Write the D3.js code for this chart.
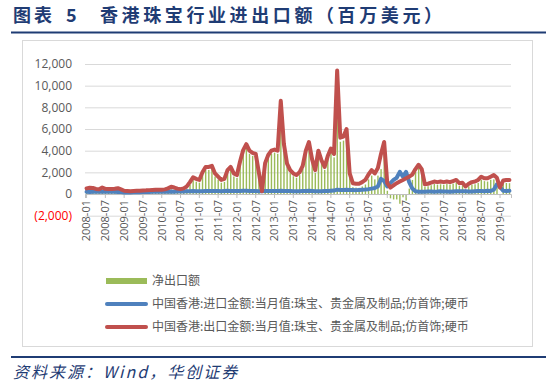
<!DOCTYPE html>
<html>
<head>
<meta charset="utf-8">
<script src="https://cdn.jsdelivr.net/npm/d3@7"></script>
<style>
body { margin: 0; background: #fff; }
svg text { font-family: "Noto Sans CJK SC", "Noto Sans", sans-serif; }
</style>
</head>
<body>
<script>
// months 2008-01 .. 2019-04
var years = d3.range(2008, 2020);
var months = [];
years.forEach(function(y) {
    for (var m = 1; m <= 12; m++) months.push(y + "-" + (m < 10 ? "0" + m : m));
});
months = months.slice(0, 136);

// 出口金额 (red)
var exportVals = [
    520, 580, 560, 470, 450, 600, 480, 470, 470, 490, 540, 430,
    300, 280, 260, 280, 300, 310, 330, 340, 360, 380, 400, 400,
    400, 430, 520, 670, 600, 500, 450, 520, 700, 1100, 1550, 1400,
    1300, 2000, 2500, 2500, 2600, 1900, 1600, 1300, 1400, 2200, 2500, 1900,
    1750, 3000, 4050, 4600, 4000, 3800, 3700, 2000, 250, 2850, 3600, 4000,
    4100, 4000, 8600, 4600, 2800, 2200, 1900, 1750, 2000, 2600, 4000, 4800,
    3200, 2200, 4000, 3100, 2500, 3500, 4200, 3700, 11400, 5200, 5300, 6000,
    1900, 1000, 950, 950, 1100, 1300, 1800, 2200, 1900, 2400, 3700, 4800,
    1000, 600, 800, 1000, 1150, 1300, 1450, 1600, 1800, 2300, 2700, 2300,
    900, 950, 1050, 1150, 1100, 1150, 1100, 1150, 1100, 1200, 1300, 1000,
    1050, 700, 950, 1100, 1150, 1300, 1600, 1450, 1450, 1600, 1750, 1500,
    600, 1250, 1300, 1300
];

// 进口金额 (blue)
var importVals = [
    200, 180, 220, 200, 210, 230, 220, 200, 210, 200, 190, 180,
    150, 140, 150, 160, 170, 170, 180, 180, 190, 200, 200, 210,
    200, 210, 220, 230, 220, 230, 240, 230, 250, 260, 270, 260,
    250, 260, 280, 280, 290, 280, 270, 260, 280, 300, 290, 280,
    270, 280, 300, 300, 290, 280, 270, 260, 250, 270, 280, 290,
    280, 290, 300, 290, 280, 270, 260, 250, 260, 270, 280, 300,
    280, 260, 250, 260, 270, 280, 300, 320, 400, 380, 370, 400,
    380, 370, 360, 380, 400, 420, 450, 500, 550, 700, 1400, 1200,
    700, 1000, 1300, 1500, 2050, 1600, 2050, 1100, 500, 250, 220, 200,
    220, 230, 240, 220, 230, 250, 240, 230, 220, 240, 260, 250,
    260, 250, 240, 230, 250, 270, 280, 260, 300, 280, 400, 900,
    650, 300, 280, 300
];

// 净出口额 (green bars)
var netVals = [
    320, 400, 340, 270, 240, 370, 260, 270, 260, 290, 350, 250,
    150, 140, 110, 120, 130, 140, 150, 160, 170, 180, 200, 190,
    200, 220, 300, 440, 380, 270, 210, 290, 450, 840, 1280, 1140,
    1050, 1740, 2220, 2220, 2310, 1620, 1330, 1040, 1120, 1900, 2210, 1620,
    1480, 2720, 3750, 4300, 3710, 3520, 3430, 1740, 0, 2580, 3320, 3710,
    3820, 3710, 8300, 4310, 2520, 1930, 1640, 1500, 1740, 2330, 3720, 4500,
    2920, 1940, 3750, 2840, 2230, 3220, 3900, 3380, 11000, 4820, 4930, 5600,
    1520, 630, 590, 570, 700, 880, 1350, 1700, 1350, 1700, 2300, 3600,
    300, -400, -500, -500, -900, -300, -600, 500, 1300, 2050, 2480, 2100,
    680, 720, 810, 930, 870, 900, 860, 920, 880, 960, 1040, 750,
    790, 450, 710, 870, 900, 1030, 1320, 1190, 1150, 1320, 1350, 600,
    -50, 950, 1020, 1000
];

var yTicks = [-2000, 0, 2000, 4000, 6000, 8000, 10000, 12000];
var legendLabels = [
    "净出口额",
    "中国香港:进口金额:当月值:珠宝、贵金属及制品;仿首饰;硬币",
    "中国香港:出口金额:当月值:珠宝、贵金属及制品;仿首饰;硬币"
];

var W = 554, H = 389;
var navy = "#1f3c74", grey = "#595959";
var cGreen = "#9bbb59", cBlue = "#4f81bd", cRed = "#c0504d";

var svg = d3.select("body").append("svg")
    .attr("width", W)
    .attr("height", H);

// title + rules
svg.append("text").attr("x", 13).attr("y", 22)
    .attr("font-size", 18).attr("font-weight", "bold").attr("fill", navy)
    .attr("letter-spacing", 3).text("图表");
svg.append("text").attr("x", 66).attr("y", 22)
    .attr("font-size", 18).attr("font-weight", "bold").attr("fill", navy)
    .text("5");
svg.append("text").attr("x", 100).attr("y", 22)
    .attr("font-size", 18).attr("font-weight", "bold").attr("fill", navy)
    .attr("letter-spacing", 3.6).text("香港珠宝行业进出口额（百万美元）");
svg.append("line").attr("x1", 11).attr("x2", 546).attr("y1", 32.5).attr("y2", 32.5)
    .attr("stroke", navy).attr("stroke-width", 2);

// chart frame
svg.append("rect").attr("x", 22.5).attr("y", 40.5).attr("width", 510).attr("height", 306)
    .attr("fill", "none").attr("stroke", "#d9d9d9");

// footer
svg.append("line").attr("x1", 11).attr("x2", 546).attr("y1", 357).attr("y2", 357)
    .attr("stroke", navy).attr("stroke-width", 2);
svg.append("text").attr("x", 13).attr("y", 378)
    .attr("font-size", 16).attr("font-style", "italic").attr("fill", navy)
    .attr("letter-spacing", 2).text("资料来源：Wind，华创证券");

// scales
var x = d3.scaleBand().domain(months).range([85, 511]);
var y = d3.scaleLinear().domain([-2000, 12000]).range([215.7, 64]);

var fmt = d3.format(",");
var yAxis = svg.append("g")
    .attr("transform", "translate(85,0)")
    .call(d3.axisLeft(y).tickValues(yTicks).tickSize(-(511 - 85)).tickPadding(13)
        .tickFormat(function(d) { return d < 0 ? "(" + fmt(-d) + ")" : fmt(d); }));
yAxis.select(".domain").remove();
yAxis.selectAll("line").attr("stroke", "#d9d9d9");
yAxis.selectAll("text")
    .attr("font-size", 12)
    .attr("fill", function(d) { return d < 0 ? "#ff0000" : grey; })
    .style("font-family", "'Open Sans', 'Noto Sans', sans-serif");

// bars
svg.append("g").selectAll("rect")
    .data(netVals)
    .enter().append("rect")
    .attr("x", function(d, i) { return x(months[i]) + x.bandwidth() * 0.3; })
    .attr("width", x.bandwidth() * 0.45)
    .attr("y", function(d) { return y(Math.max(0, d)); })
    .attr("height", function(d) { return Math.abs(y(d) - y(0)); })
    .attr("fill", cGreen);

// x axis at 0
var xAxis = svg.append("g")
    .attr("transform", "translate(0," + y(0) + ")")
    .call(d3.axisBottom(x)
        .tickValues(months.filter(function(d, i) { return i % 6 === 0; }))
        .tickSize(4).tickPadding(5));
xAxis.select(".domain").attr("stroke", "#bfbfbf");
xAxis.selectAll("line").attr("stroke", "#bfbfbf");
xAxis.selectAll("text")
    .attr("font-size", 11)
    .attr("fill", grey)
    .style("font-family", "'Open Sans', 'Noto Sans', sans-serif")
    .attr("transform", "rotate(-90)")
    .attr("text-anchor", "end")
    .attr("x", -6)
    .attr("y", 0)
    .attr("dy", "0.35em");

// lines
var line = d3.line()
    .x(function(d, i) { return x(months[i]) + x.bandwidth() / 2; })
    .y(function(d) { return y(d); });

svg.append("path").datum(importVals)
    .attr("d", line).attr("fill", "none")
    .attr("stroke", cBlue).attr("stroke-width", 4)
    .attr("stroke-linejoin", "round").attr("stroke-linecap", "round");

svg.append("path").datum(exportVals)
    .attr("d", line).attr("fill", "none")
    .attr("stroke", cRed).attr("stroke-width", 4)
    .attr("stroke-linejoin", "round").attr("stroke-linecap", "round");

// legend
var legend = svg.append("g");
var legendColors = [cGreen, cBlue, cRed];
legendLabels.forEach(function(t, i) {
    var ly = 281 + i * 23;
    if (i === 0) {
        legend.append("rect").attr("x", 106).attr("y", ly - 3).attr("width", 41).attr("height", 6)
            .attr("fill", legendColors[i]);
    } else {
        legend.append("line").attr("x1", 107).attr("x2", 146).attr("y1", ly).attr("y2", ly)
            .attr("stroke", legendColors[i]).attr("stroke-width", 4).attr("stroke-linecap", "round");
    }
    legend.append("text").attr("x", 152).attr("y", ly).attr("dy", "0.35em")
        .attr("font-size", 12).attr("fill", grey).text(t);
});
</script>
</body>
</html>
